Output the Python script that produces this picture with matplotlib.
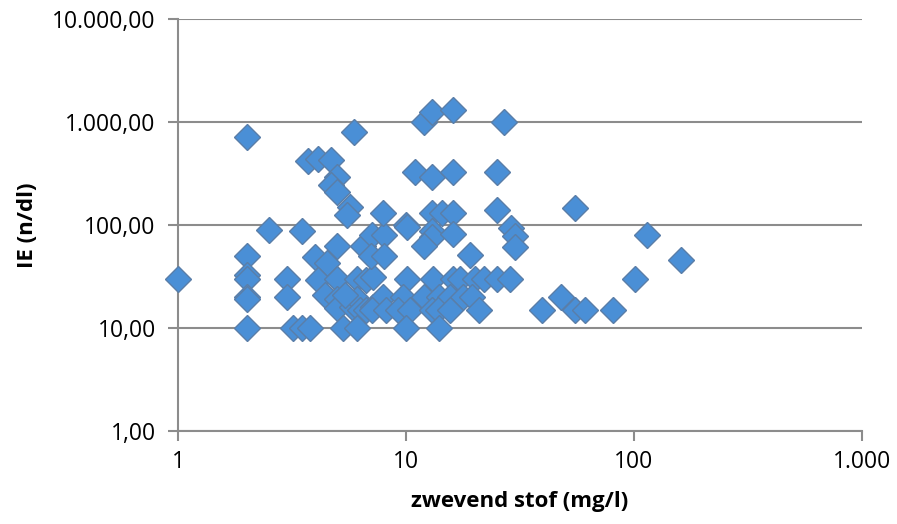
import matplotlib
matplotlib.use('Agg')
from matplotlib import pyplot as plt
from matplotlib.ticker import FixedLocator, FixedFormatter, NullLocator

# zwevend stof (mg/l)
stof = [1, 2, 2, 2, 2, 2, 2, 2, 2.5, 3.5,
        3, 3, 3.2, 3.5, 3.8, 3.7, 4.1, 4.7, 5.0, 4.7,
        5.0, 5.7, 5.5, 5.9, 4.0, 4.5, 4.1, 5.0, 6.1, 6.7,
        7.2, 4.4, 5.0, 5.0, 5.8, 6.1, 6.3, 6.7, 7.2, 5.3,
        6.1, 5.0, 6.5, 7.1, 8.0, 7.0, 8.0, 7.9, 10, 10.1,
        11, 13, 16, 25, 13, 14.4, 16, 25, 55, 13,
        13, 16, 29, 30, 12, 19, 30, 12, 13, 16,
        27, 114, 161, 101, 81, 10.1, 13.1, 16, 17.3, 20,
        22, 25, 28.5, 7.9, 9.7, 12, 14, 15.6, 17.8, 19.5,
        7.1, 8.2, 9.2, 10.4, 13, 13.8, 15.6, 21, 10, 14,
        39.5, 48, 55, 61, 5.4]
# IE (n/dl)
ie = [30, 720, 50, 33, 30, 20, 19, 10, 90, 88,
      30, 20, 10, 10, 10, 420, 440, 425, 290, 245,
      210, 150, 125, 800, 49, 43, 29, 30, 30, 29,
      31, 21, 19, 15.5, 16, 19, 15, 15, 16, 10,
      10, 62, 62, 80, 80, 50, 50, 130, 100, 95,
      330, 290, 330, 330, 130, 130, 130, 140, 145, 88,
      77, 82, 93, 78, 62, 51, 61, 1000, 1250, 1320,
      1000, 80, 46, 30, 15, 30, 30, 30, 30, 30,
      30, 30, 30, 20, 20, 20, 20, 20, 20, 20,
      15, 15, 15, 15, 15, 15, 15, 15, 10, 10,
      15, 20, 15, 15, 21]

x_ticks = [1, 10, 100, 1000]
x_labels = ['1', '10', '100', '1.000']
y_ticks = [1, 10, 100, 1000, 10000]
y_labels = ['1,00', '10,00', '100,00', '1.000,00', '10.000,00']

plt.rcParams['font.family'] = ['Open Sans', 'DejaVu Sans']
grey = '#8c8c8c'

fig = plt.figure(figsize=(8.97, 5.24), dpi=100)
ax = fig.add_axes([0.1984, 0.1775, 0.7626, 0.786])

ax.set_xscale('log')
ax.set_yscale('log')
ax.set_xlim(1, 1000)
ax.set_ylim(1, 10000)

ax.plot(stof, ie, linestyle='none', marker='D', markersize=13,
        markerfacecolor='#4a8fd6', markeredgecolor='#5a7ea8',
        markeredgewidth=1.0, clip_on=False, zorder=3)

ax.xaxis.set_major_locator(FixedLocator(x_ticks))
ax.xaxis.set_major_formatter(FixedFormatter(x_labels))
ax.yaxis.set_major_locator(FixedLocator(y_ticks))
ax.yaxis.set_major_formatter(FixedFormatter(y_labels))
ax.xaxis.set_minor_locator(NullLocator())
ax.yaxis.set_minor_locator(NullLocator())

ax.yaxis.grid(True, color=grey, linewidth=1.5)
ax.set_axisbelow(True)
for s in ['top', 'right']:
    ax.spines[s].set_visible(False)
for s in ['left', 'bottom']:
    ax.spines[s].set_color(grey)
    ax.spines[s].set_linewidth(1.5)
ax.tick_params(axis='both', colors=grey, length=7, width=1.5,
               labelsize=16.5, labelcolor='black')
ax.tick_params(axis='y', pad=9)
ax.tick_params(axis='x', pad=7)

ax.set_xlabel('zwevend stof (mg/l)', fontsize=16, fontweight='bold', labelpad=12)
ax.set_ylabel('IE (n/dl)', fontsize=16, fontweight='bold', labelpad=10)

plt.savefig('out.png', dpi=100)
